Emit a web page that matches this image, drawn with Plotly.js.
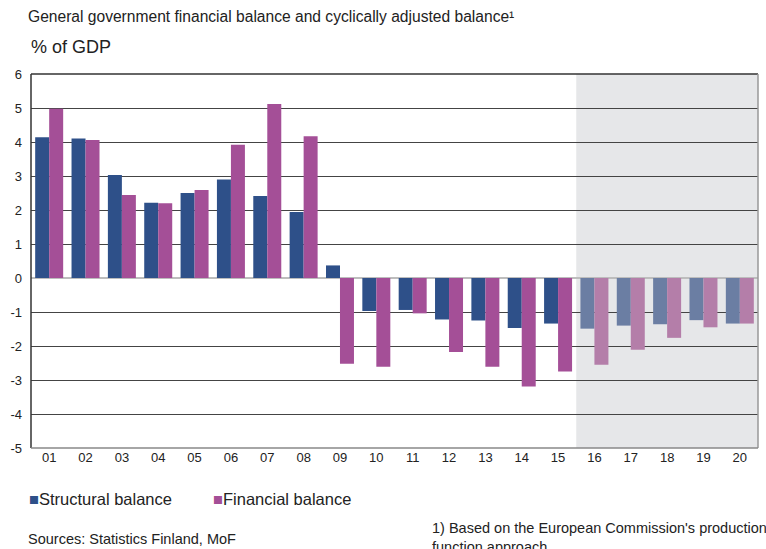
<!DOCTYPE html>
<html>
<head>
<meta charset="utf-8">
<script src="https://cdn.plot.ly/plotly-3.0.1.min.js"></script>
<style>html,body{margin:0;padding:0;background:#fff;}#chart{width:766px;height:549px;}</style>
</head>
<body>
<div id="chart"></div>
<script>
var years = ["01","02","03","04","05","06","07","08","09","10","11","12","13","14","15","16","17","18","19","20"];
var structural = [4.14,4.10,3.03,2.21,2.50,2.90,2.41,1.94,0.37,-0.97,-0.94,-1.22,-1.25,-1.47,-1.34,-1.49,-1.40,-1.36,-1.24,-1.34];
var financial = [4.98,4.06,2.44,2.20,2.59,3.92,5.12,4.17,-2.52,-2.61,-1.04,-2.18,-2.61,-3.19,-2.75,-2.55,-2.11,-1.76,-1.45,-1.34];
var seriesNames = ["Structural balance","Financial balance"];
var forecastFrom = "16";
var yTicks = [-5,-4,-3,-2,-1,0,1,2,3,4,5,6];

var fIdx = years.indexOf(forecastFrom);
function colors(base, light){ return years.map(function(y,i){ return i>=fIdx ? light : base; }); }

var font = "Liberation Sans, Arial, sans-serif";
var cStruct = '#2e5089', cFin = '#a44f97';
var data = [
  {type:'bar', name:seriesNames[0], x:years, y:structural,
   marker:{color:colors(cStruct,'#6b7ea3'), line:{width:0}}, hoverinfo:'x+y'},
  {type:'bar', name:seriesNames[1], x:years, y:financial,
   marker:{color:colors(cFin,'#b47ea9'), line:{width:0}}, hoverinfo:'x+y'}
];
var PH = 373.4, PW = 726, T = 74;
function py(pix){ return 1 - (pix - T)/PH; }
function px(pix){ return (pix - 31)/PW; }
var layout = {
  width:766, height:549,
  margin:{l:31, r:8, t:74, b:101},
  paper_bgcolor:'#fff', plot_bgcolor:'#fff',
  font:{family:font, color:'#222', size:13},
  barmode:'group', bargap:0.23, bargroupgap:0,
  showlegend:false,
  title:{text:'General government financial balance and cyclically adjusted balance¹',
         x:28/766, xanchor:'left', y:1-16.5/549, yanchor:'middle', font:{size:15.6, color:'#222'}},
  xaxis:{type:'category', showgrid:false, zeroline:false, showline:false, ticks:'',
         tickfont:{size:13, color:'#222'}, fixedrange:true},
  yaxis:{range:[-5,6], tickvals:yTicks, ticktext:yTicks.map(String), showgrid:true, gridcolor:'#444', gridwidth:1,
         zeroline:true, zerolinecolor:'#bdbdbd', zerolinewidth:1.5, showline:false, ticks:'',
         ticklabelstandoff:8, tickfont:{size:13, color:'#222'}, fixedrange:true},
  shapes:[
    {type:'rect', xref:'x', yref:'paper', x0:fIdx-0.5, x1:years.length-0.5, y0:0, y1:1,
     fillcolor:'#e6e7e9', line:{width:0}, layer:'below'},
    {type:'line', xref:'paper', yref:'paper', x0:0, x1:1, y0:1, y1:1, line:{color:'#333', width:1.5}},
    {type:'line', xref:'paper', yref:'paper', x0:0, x1:0, y0:0, y1:1, line:{color:'#333', width:1.5}},
    {type:'line', xref:'paper', yref:'paper', x0:1, x1:1, y0:0, y1:1, line:{color:'#999', width:1.5}},
    {type:'line', xref:'paper', yref:'paper', x0:0, x1:1, y0:0, y1:0, line:{color:'#888', width:1.5}}
  ],
  annotations:[
    {text:'% of GDP', xref:'paper', yref:'paper', x:px(29), y:py(47), xanchor:'left', yanchor:'middle',
     showarrow:false, font:{size:18, color:'#222'}},
    {text:'<span style="color:'+cStruct+'">■</span>'+seriesNames[0], xref:'paper', yref:'paper', x:px(27), y:py(498.5),
     xanchor:'left', yanchor:'middle', showarrow:false, font:{size:16.5, color:'#222'}},
    {text:'<span style="color:'+cFin+'">■</span>'+seriesNames[1], xref:'paper', yref:'paper', x:px(211), y:py(498.5),
     xanchor:'left', yanchor:'middle', showarrow:false, font:{size:16.5, color:'#222'}},
    {text:'Sources: Statistics Finland, MoF', xref:'paper', yref:'paper', x:px(26), y:py(538),
     xanchor:'left', yanchor:'middle', showarrow:false, font:{size:14.5, color:'#222'}},
    {text:"1) Based on the European Commission's production<br>function approach.", xref:'paper', yref:'paper',
     x:px(429), y:py(517), xanchor:'left', yanchor:'top', align:'left',
     showarrow:false, font:{size:14.5, color:'#222'}}
  ]
};
Plotly.newPlot('chart', data, layout, {displayModeBar:false, staticPlot:true});
</script>
</body>
</html>
